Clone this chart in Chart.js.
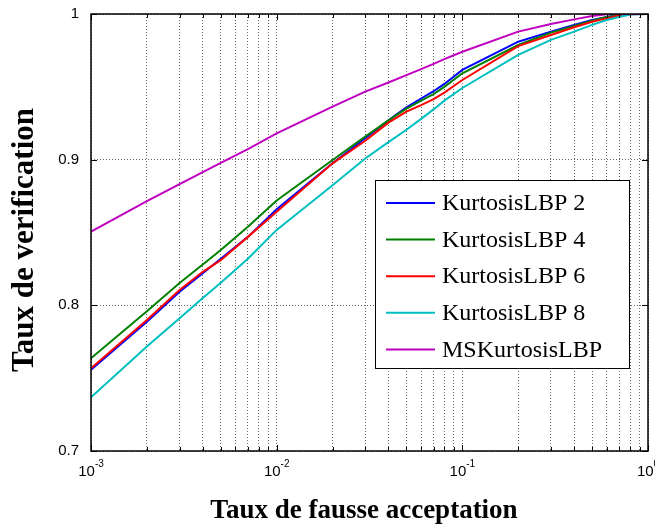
<!DOCTYPE html>
<html>
<head>
<meta charset="utf-8">
<script src="https://cdn.jsdelivr.net/npm/chart.js@4/dist/chart.umd.min.js"></script>
<style>
html,body{margin:0;padding:0;background:#fff;}
canvas{display:block;}
</style>
</head>
<body>
<canvas id="c" width="655" height="524"></canvas>
<script>
// ---- data ----
const far = [0.001,0.002,0.003,0.004,0.005,0.007,0.01,0.02,0.03,0.04,0.05,0.06,0.07,0.08,0.1,0.2,0.3,0.4,0.5,0.6,0.7,0.8,1];
const klbp2 = [0.7557,0.7888,0.8094,0.8220,0.8320,0.8470,0.8660,0.8975,0.9147,0.9270,0.9360,0.9420,0.9470,0.9520,0.9616,0.9810,0.9879,0.9925,0.9959,0.9980,0.9995,1.0000,1.0000];
const klbp4 = [0.7637,0.7960,0.8153,0.8280,0.8380,0.8540,0.8720,0.8998,0.9158,0.9270,0.9350,0.9405,0.9450,0.9500,0.9593,0.9787,0.9872,0.9918,0.9954,0.9980,0.9993,1.0000,1.0000];
const klbp6 = [0.7568,0.7900,0.8106,0.8230,0.8310,0.8470,0.8643,0.8975,0.9130,0.9254,0.9330,0.9375,0.9415,0.9460,0.9547,0.9780,0.9856,0.9909,0.9947,0.9970,0.9990,0.9998,1.0000];
const klbp8 = [0.7369,0.7718,0.7912,0.8050,0.8155,0.8320,0.8518,0.8825,0.9008,0.9120,0.9205,0.9280,0.9345,0.9405,0.9492,0.9719,0.9822,0.9879,0.9925,0.9959,0.9980,0.9997,1.0000];
const msklbp = [0.8506,0.8715,0.8832,0.8915,0.8978,0.9072,0.9180,0.9364,0.9467,0.9530,0.9580,0.9622,0.9658,0.9690,0.9741,0.9879,0.9931,0.9963,0.9986,0.9998,1.0000,1.0000,1.0000];
const seriesNames = ['KurtosisLBP 2','KurtosisLBP 4','KurtosisLBP 6','KurtosisLBP 8','MSKurtosisLBP'];
const xTicks = [0.001,0.002,0.003,0.004,0.005,0.006,0.007,0.008,0.009,
                0.01,0.02,0.03,0.04,0.05,0.06,0.07,0.08,0.09,
                0.1,0.2,0.3,0.4,0.5,0.6,0.7,0.8,0.9,1];
const xMajor = [0.001,0.01,0.1,1];
const xMajorExp = ['-3','-2','-1','0'];
const yTicks = [0.7,0.8,0.9,1];
const xTitle = 'Taux de fausse acceptation';
const yTitle = 'Taux de verification';

const colors = ['#0000ff','#008000','#ff0000','#00bfbf','#bf00bf'];
const allSeries = [klbp2,klbp4,klbp6,klbp8,msklbp];

const datasets = allSeries.map((arr,i)=>({
  label: seriesNames[i],
  data: far.map((x,j)=>({x:x,y:arr[j]})),
  borderColor: colors[i],
  backgroundColor: colors[i],
  borderWidth: 2,
  pointRadius: 0,
  fill: false,
  tension: 0,
  order: 5 - i
}));

const decor = {
  id: 'decor',
  afterDraw(chart){
    const ctx = chart.ctx;
    const a = chart.chartArea;
    const xs = chart.scales.x, ys = chart.scales.y;
    ctx.save();
    // inner ticks
    ctx.strokeStyle = '#000';
    ctx.lineWidth = 1;
    ctx.beginPath();
    xTicks.forEach(v=>{
      const px = Math.round(xs.getPixelForValue(v)) + 0.5;
      const len = xMajor.includes(v) ? 6 : 4;
      ctx.moveTo(px, a.bottom); ctx.lineTo(px, a.bottom - len);
      ctx.moveTo(px, a.top); ctx.lineTo(px, a.top + len);
    });
    yTicks.forEach(v=>{
      const py = Math.round(ys.getPixelForValue(v)) + 0.5;
      ctx.moveTo(a.left, py); ctx.lineTo(a.left + 6, py);
      ctx.moveTo(a.right, py); ctx.lineTo(a.right - 6, py);
    });
    ctx.stroke();
    // frame
    ctx.lineWidth = 1.5;
    ctx.strokeRect(a.left, a.top, a.right - a.left, a.bottom - a.top);
    // x tick labels 10^n
    ctx.fillStyle = '#000';
    ctx.textBaseline = 'alphabetic';
    ctx.textAlign = 'left';
    xMajor.forEach((v,i)=>{
      const px = xs.getPixelForValue(v);
      ctx.font = '15px "Liberation Sans", Arial, sans-serif';
      const w1 = ctx.measureText('10').width;
      ctx.font = '10px "Liberation Sans", Arial, sans-serif';
      const w2 = ctx.measureText(xMajorExp[i]).width;
      const x0 = px - (w1 + w2) / 2;
      ctx.font = '15px "Liberation Sans", Arial, sans-serif';
      ctx.fillText('10', x0, 476);
      ctx.font = '10px "Liberation Sans", Arial, sans-serif';
      ctx.fillText(xMajorExp[i], x0 + w1, 467);
    });
    // axis titles
    ctx.font = 'bold 27px "Liberation Serif", "Times New Roman", serif';
    ctx.textAlign = 'center';
    ctx.fillText(xTitle, 364, 518);
    ctx.save();
    ctx.font = 'bold 31px "Liberation Serif", "Times New Roman", serif';
    ctx.translate(33, 240);
    ctx.rotate(-Math.PI / 2);
    ctx.fillText(yTitle, 0, 0);
    ctx.restore();
    // legend
    const lx = 375, ly = 180, lw = 254, lh = 188;
    ctx.fillStyle = '#fff';
    ctx.fillRect(lx, ly, lw, lh);
    ctx.strokeStyle = '#000';
    ctx.lineWidth = 1;
    ctx.strokeRect(lx + 0.5, ly + 0.5, lw, lh);
    ctx.font = '24px "Liberation Serif", "Times New Roman", serif';
    ctx.textAlign = 'left';
    ctx.textBaseline = 'middle';
    chart.data.datasets.forEach((ds,i)=>{
      const cy = 203 + i * 36.6;
      ctx.strokeStyle = ds.borderColor;
      ctx.lineWidth = 2;
      ctx.beginPath();
      ctx.moveTo(386, cy); ctx.lineTo(435, cy);
      ctx.stroke();
      ctx.fillStyle = '#000';
      ctx.fillText(ds.label, 442, cy + 1);
    });
    ctx.restore();
  }
};

new Chart(document.getElementById('c'), {
  type: 'line',
  data: { datasets: datasets },
  options: {
    responsive: false,
    animation: false,
    devicePixelRatio: 1,
    layout: { padding: { top: 14, right: 7, left: 0, bottom: 0 } },
    plugins: { legend: { display: false }, tooltip: { enabled: false } },
    scales: {
      x: {
        type: 'logarithmic',
        min: 0.001, max: 1,
        afterBuildTicks(scale){ scale.ticks = xTicks.map(v=>({value:v})); },
        afterFit(scale){ scale.height = 73; scale.paddingLeft = 0; scale.paddingRight = 0; },
        ticks: { display: false },
        grid: { color: 'rgba(0,0,0,0.6)', lineWidth: 1, drawTicks: false },
        border: { display: false, dash: [1,2] }
      },
      y: {
        type: 'linear',
        min: 0.7, max: 1,
        afterBuildTicks(scale){ scale.ticks = yTicks.map(v=>({value:v})); },
        afterFit(scale){ scale.width = 91; scale.paddingTop = 0; scale.paddingBottom = 0; },
        ticks: {
          padding: 12,
          color: '#000',
          font: { family: '"Liberation Sans", Arial, sans-serif', size: 15 },
          callback: (v)=> v === 1 ? '1' : Number(v).toFixed(1)
        },
        grid: { color: 'rgba(0,0,0,0.6)', lineWidth: 1, drawTicks: false },
        border: { display: false, dash: [1,2] }
      }
    }
  },
  plugins: [decor]
});
</script>
</body>
</html>
